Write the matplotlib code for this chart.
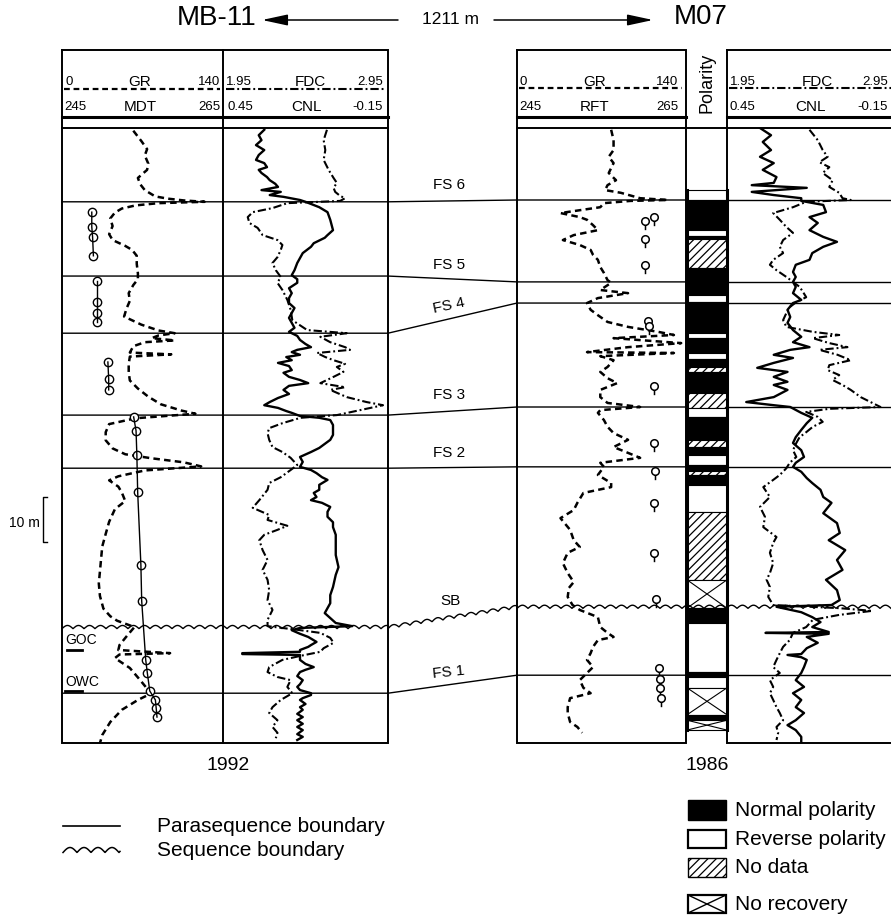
import numpy as np
import matplotlib
matplotlib.use("Agg")
import matplotlib.pyplot as plt
from matplotlib.path import Path
from matplotlib.patches import Rectangle

plt.rcParams['font.family'] = ['Liberation Sans', 'DejaVu Sans']
plt.rcParams['hatch.linewidth'] = 0.9
plt.rcParams['hatch.color'] = 'black'

# ====================== DATA (depth in m below top of section) ======================
# ---- MB-11 gamma ray (API) ----
mb_gr_depth = [0.6, 2.9, 4.7, 6.1, 7.9, 9.3, 11.1, 12.5, 13.8, 15.2, 15.7, 16.1, 16.4, 16.7, 17.2,
               17.9, 18.8, 20.1, 21.8, 23.6, 24.9, 26.2, 27.1, 28.4, 30.2, 32.3, 33.6, 34.9, 36.7,
               38.4, 40.2, 41.9, 43.7, 45.0, 45.6, 46.1, 46.7, 47.2, 47.6, 48.5, 49.9, 50.3, 50.8,
               52.5, 54.3, 56.1, 57.9, 59.7, 61.4, 62.8, 63.5, 64.5, 65.8, 67.6, 69.4, 71.2, 72.5,
               73.4, 74.3, 75.2, 76.1, 77.4, 78.3, 79.7, 81.0, 82.9, 84.7, 87.5, 90.2, 93.0, 95.7,
               98.5, 101.2, 104.0, 106.8, 108.5, 109.5, 110.9, 112.7, 114.9, 116.0, 116.7, 117.0,
               117.8, 120.0, 122.7, 124.9, 125.6, 127.1, 129.3, 132.0, 134.9, 136.7]
mb_gr = [62, 69, 74, 72, 75, 74, 66, 68, 72, 81, 92, 106, 124, 84, 64,
         52, 46, 42, 44, 41, 44, 55, 61, 65, 65, 66, 66, 62, 58,
         59, 56, 54, 69, 84, 98, 84, 78, 98, 72, 62, 59, 95, 59,
         58, 58, 59, 66, 75, 86, 104, 116, 64, 41, 38, 38, 44, 55,
         78, 106, 121, 72, 49, 41, 49, 52, 55, 46, 41, 38, 35, 34,
         33, 32, 33, 36, 42, 48, 63, 57, 50, 49, 94, 50,
         46, 59, 68, 75, 78, 66, 52, 42, 35, 33]

# ---- MB-11 MDT pressure (bar) ----
mb_mdt_depth = [18.7, 22.0, 24.2, 28.4, 34.0, 38.7, 41.1, 43.1, 52.0, 55.8, 58.2,
                64.2, 67.3, 72.7, 80.9, 97.1, 105.1, 118.2, 121.1, 125.1, 127.1, 128.9, 130.9]
mb_mdt = [248.7, 248.7, 248.8, 248.9, 249.3, 249.3, 249.3, 249.3, 250.7, 250.8, 250.8,
          253.9, 254.2, 254.3, 254.4, 254.8, 254.9, 255.4, 255.6, 255.9, 256.6, 256.7, 256.8]
mb_mdt_group = [1, 1, 1, 1, 2, 2, 2, 2, 3, 3, 3,
                4, 4, 4, 4, 4, 4, 4, 4, 4, 4, 4, 4]

# ---- MB-11 density (g/cc) ----
mb_fdc_depth = [0.4, 2.7, 4.9, 7.1, 9.3, 11.1, 12.2, 13.3, 14.2, 15.1,
                15.6, 16.2, 16.7, 17.8, 18.7, 19.8, 21.1, 22.2, 23.8, 24.9,
                26.0, 27.1, 28.7, 30.0, 31.6, 33.1, 34.4, 36.0, 38.2, 40.4,
                42.7, 44.9, 45.6, 46.4, 47.6, 48.7, 49.3, 50.0, 50.9, 51.6,
                52.4, 53.1, 54.2, 55.3, 56.7, 57.6, 58.2, 59.8, 60.9, 61.6,
                62.7, 63.8, 64.4, 65.6, 66.7, 67.8, 69.3, 70.9, 72.0, 73.3,
                74.9, 76.0, 77.6, 78.9, 80.4, 82.7, 84.4, 86.0, 87.1, 88.4,
                89.3, 90.4, 91.6, 93.8, 96.0, 98.2, 100.4, 102.7, 104.9, 107.1,
                109.3, 110.7, 111.6, 112.2, 113.3, 114.4, 115.6, 116.4, 117.3, 118.2,
                119.8, 120.9, 122.0, 122.7, 124.2, 125.6, 127.1, 128.7, 130.0, 131.6,
                133.1, 134.4, 135.6]
mb_fdc = [2.58, 2.56, 2.57, 2.56, 2.59, 2.62, 2.64, 2.62, 2.63, 2.66,
          2.69, 2.66, 2.34, 2.25, 2.13, 2.10, 2.11, 2.16, 2.19, 2.28,
          2.31, 2.30, 2.28, 2.25, 2.27, 2.30, 2.28, 2.31, 2.34, 2.36,
          2.37, 2.46, 2.70, 2.54, 2.60, 2.69, 2.72, 2.52, 2.57, 2.62,
          2.69, 2.64, 2.68, 2.62, 2.54, 2.69, 2.60, 2.70, 2.82, 2.92,
          2.78, 2.64, 2.42, 2.31, 2.23, 2.22, 2.23, 2.25, 2.31, 2.36,
          2.40, 2.36, 2.30, 2.23, 2.22, 2.17, 2.13, 2.23, 2.22, 2.34,
          2.28, 2.20, 2.17, 2.19, 2.22, 2.19, 2.22, 2.23, 2.22, 2.25,
          2.22, 2.22, 2.42, 2.54, 2.60, 2.62, 2.56, 2.54, 2.42, 2.31,
          2.23, 2.22, 2.28, 2.36, 2.34, 2.37, 2.30, 2.25, 2.23, 2.28,
          2.25, 2.28, 2.27]

# ---- MB-11 neutron porosity (v/v) ----
mb_cnl_depth = [0.4, 1.6, 2.7, 3.8, 4.9, 6.0, 7.1, 7.8, 8.7, 9.3,
                10.0, 10.9, 11.6, 12.4, 13.1, 13.8, 14.2, 14.9, 15.3, 16.0,
                16.4, 17.6, 18.7, 20.4, 22.7, 23.8, 24.4, 25.6, 26.4, 27.8,
                28.9, 30.0, 31.6, 32.7, 33.6, 34.4, 35.6, 36.7, 37.8, 38.9,
                40.0, 41.1, 42.2, 43.3, 44.4, 45.3, 46.2, 47.1, 48.0, 48.7,
                49.3, 49.8, 50.4, 50.9, 51.6, 52.2, 52.9, 53.8, 54.4, 55.3,
                56.0, 56.7, 57.3, 58.2, 59.1, 60.0, 60.9, 61.6, 62.2, 62.9,
                63.3, 64.0, 64.4, 64.9, 66.0, 67.1, 68.2, 69.3, 70.2, 71.1,
                72.0, 73.1, 74.2, 75.3, 76.0, 76.7, 77.6, 78.2, 79.3, 80.4,
                81.1, 82.0, 82.7, 83.3, 84.2, 85.3, 86.4, 87.6, 88.7, 90.4,
                93.1, 94.9, 97.6, 99.3, 102.0, 103.8, 105.6, 106.7, 107.8, 108.9,
                110.0, 110.7, 111.1, 111.6, 112.4, 113.1, 114.2, 114.9, 115.3, 116.0,
                116.4, 116.7, 116.9, 117.1, 118.2, 119.1, 119.8, 120.4, 120.9, 121.8,
                122.7, 123.6, 124.2, 124.9, 125.6, 126.0, 126.7, 127.1, 128.0, 128.7,
                129.3, 130.2, 130.9, 131.6, 132.4, 133.1, 133.8, 134.7, 135.3, 136.0]
mb_cnl = [0.30, 0.32, 0.31, 0.33, 0.30, 0.32, 0.33, 0.30, 0.29, 0.32,
          0.31, 0.29, 0.28, 0.26, 0.25, 0.31, 0.24, 0.28, 0.23, 0.17,
          0.15, 0.10, 0.07, 0.06, 0.05, 0.07, 0.08, 0.12, 0.13, 0.16,
          0.17, 0.18, 0.19, 0.20, 0.18, 0.18, 0.21, 0.20, 0.21, 0.21,
          0.19, 0.20, 0.21, 0.20, 0.19, 0.21, 0.18, 0.17, 0.15, 0.13,
          0.18, 0.20, 0.17, 0.22, 0.20, 0.25, 0.21, 0.20, 0.23, 0.21,
          0.17, 0.14, 0.21, 0.23, 0.21, 0.25, 0.28, 0.30, 0.25, 0.22,
          0.20, 0.17, 0.10, 0.06, 0.05, 0.05, 0.05, 0.06, 0.08, 0.10,
          0.13, 0.17, 0.16, 0.17, 0.13, 0.11, 0.09, 0.07, 0.10, 0.10,
          0.12, 0.11, 0.13, 0.09, 0.06, 0.07, 0.07, 0.05, 0.05, 0.04,
          0.04, 0.04, 0.03, 0.04, 0.05, 0.06, 0.06, 0.07, 0.08, 0.06,
          0.04, -0.02, 0.17, 0.20, 0.17, 0.14, 0.11, 0.13, 0.14, 0.17,
          0.17, 0.38, 0.38, 0.17, 0.17, 0.15, 0.12, 0.15, 0.17, 0.18,
          0.16, 0.17, 0.18, 0.17, 0.13, 0.13, 0.16, 0.17, 0.15, 0.17,
          0.16, 0.18, 0.16, 0.18, 0.16, 0.18, 0.16, 0.18, 0.16, 0.18]

# ---- M07 gamma ray (API) ----
m7_gr_depth = [0.4, 2.7, 4.9, 6.4, 7.8, 10.0, 11.6, 12.7, 13.8, 14.4,
               15.6, 16.0, 16.2, 16.7, 17.6, 18.9, 19.8, 20.4, 21.6, 22.7,
               23.8, 24.9, 26.0, 27.1, 28.2, 29.3, 30.9, 32.2, 33.8, 34.4,
               36.0, 36.7, 37.8, 38.9, 40.4, 41.6, 43.1, 44.2, 45.3, 46.0,
               46.7, 47.8, 48.7, 49.8, 50.0, 50.7, 51.6, 53.1, 54.2, 55.6,
               56.7, 58.2, 59.8, 61.1, 62.0, 62.7, 63.3, 64.9, 66.4, 67.8,
               69.3, 70.9, 72.2, 73.3, 74.4, 75.3, 77.1, 78.9, 79.8, 81.1,
               83.3, 84.9, 86.7, 89.3, 91.6, 93.1, 94.4, 96.7, 98.9, 100.9,
               102.2, 104.2, 106.0, 107.1, 108.7, 110.9, 112.2, 113.1, 113.8, 115.3,
               116.7, 118.2, 119.8, 121.1, 122.7, 124.4, 125.6, 126.7, 128.7, 130.0,
               132.0, 133.1, 134.4]
m7_gr = [78, 80, 80, 76, 80, 76, 82, 75, 73, 86,
         102, 125, 94, 72, 69, 36, 52, 58, 63, 67,
         47, 38, 52, 61, 63, 67, 69, 72, 75, 78,
         69, 92, 67, 58, 61, 67, 75, 92, 117, 130,
         80, 136, 92, 58, 130, 69, 80, 75, 69, 75,
         83, 69, 69, 75, 102, 69, 67, 72, 75, 80,
         92, 80, 92, 102, 69, 72, 67, 78, 78, 55,
         50, 47, 36, 44, 47, 52, 42, 38, 42, 47,
         43, 42, 46, 52, 67, 69, 75, 80, 67, 63,
         61, 58, 63, 58, 52, 55, 61, 44, 42, 42,
         44, 50, 54]

# ---- M07 RFT pressure (bar) ----
m7_rft_depth = [19.8, 20.7, 24.7, 30.4, 42.9, 44.0, 57.3, 70.0, 76.2, 83.3,
                94.4, 104.7, 120.0, 122.4, 124.4, 126.7]
m7_rft = [261.2, 260.1, 260.1, 260.2, 260.5, 260.6, 261.2, 261.2, 261.3, 261.2,
          261.2, 261.5, 261.8, 261.9, 261.9, 262.1]

# ---- M07 density (g/cc) ----
m7_fdc_depth = [0.4, 2.7, 4.9, 6.4, 7.6, 8.7, 10.0, 11.6, 13.1, 14.4,
                15.6, 16.0, 16.4, 17.6, 18.9, 20.4, 22.0, 23.3, 24.9, 26.4,
                27.8, 29.3, 30.4, 31.6, 33.1, 34.2, 35.3, 36.4, 37.6, 38.7,
                39.8, 41.1, 42.7, 44.2, 45.3, 46.0, 46.7, 47.8, 48.7, 49.3,
                50.4, 51.6, 52.7, 53.8, 54.9, 56.0, 57.1, 58.2, 59.8, 60.9,
                62.0, 62.4, 63.1, 64.2, 65.3, 66.4, 67.6, 68.7, 70.0, 71.6,
                73.1, 74.4, 75.6, 77.1, 78.2, 79.8, 82.0, 84.2, 86.4, 88.7,
                90.9, 92.2, 94.4, 96.7, 98.9, 100.4, 102.0, 104.2, 106.0, 106.7,
                107.3, 108.2, 109.3, 110.9, 112.2, 113.8, 115.3, 116.7, 118.2, 119.8,
                121.1, 122.7, 124.2, 125.6, 127.1, 128.7, 130.0, 131.6, 133.1, 134.4, 136.0]
m7_fdc = [2.45, 2.50, 2.53, 2.56, 2.51, 2.57, 2.53, 2.59, 2.57, 2.63,
          2.65, 2.70, 2.43, 2.35, 2.23, 2.27, 2.31, 2.35, 2.29, 2.27,
          2.29, 2.23, 2.21, 2.25, 2.31, 2.35, 2.39, 2.41, 2.43, 2.37,
          2.33, 2.31, 2.29, 2.31, 2.47, 2.63, 2.47, 2.57, 2.68, 2.51,
          2.62, 2.70, 2.57, 2.56, 2.63, 2.59, 2.65, 2.70, 2.76, 2.82,
          2.88, 2.57, 2.43, 2.50, 2.53, 2.47, 2.43, 2.39, 2.37, 2.35,
          2.37, 2.33, 2.31, 2.27, 2.23, 2.17, 2.21, 2.15, 2.18, 2.17,
          2.25, 2.23, 2.21, 2.23, 2.21, 2.19, 2.21, 2.20, 2.23, 2.63,
          2.83, 2.63, 2.47, 2.43, 2.35, 2.33, 2.29, 2.27, 2.25, 2.23,
          2.27, 2.21, 2.23, 2.21, 2.23, 2.25, 2.27, 2.29, 2.25, 2.26, 2.25]

# ---- M07 neutron porosity (v/v) ----
m7_cnl_depth = [0.0, 1.6, 3.1, 4.9, 6.4, 7.8, 9.3, 10.9, 12.2, 12.7,
                13.3, 14.2, 14.9, 15.6, 16.2, 17.1, 18.7, 19.8, 21.1, 22.7,
                24.2, 25.3, 26.4, 27.8, 29.3, 30.4, 32.0, 33.1, 34.2, 35.3,
                36.7, 38.2, 38.9, 40.4, 42.0, 43.3, 44.9, 46.4, 47.6, 48.7,
                49.3, 50.4, 51.1, 52.2, 53.3, 54.2, 55.3, 56.4, 57.1, 58.2,
                59.8, 60.9, 61.6, 62.0, 63.3, 64.4, 65.6, 67.1, 68.7, 70.0,
                71.6, 73.1, 74.4, 75.3, 76.4, 77.8, 78.9, 80.4, 82.0, 83.3,
                85.6, 87.8, 90.0, 91.6, 93.8, 96.0, 98.2, 100.4, 102.7, 104.9,
                106.0, 106.4, 107.6, 108.7, 109.8, 110.9, 112.0, 112.2, 112.4, 113.1,
                114.4, 115.6, 116.9, 117.1, 117.6, 118.2, 119.8, 121.1, 122.7, 124.2,
                125.6, 127.1, 128.7, 130.0, 131.6, 132.7, 133.8, 135.3, 136.4]
m7_cnl = [0.33, 0.29, 0.32, 0.29, 0.33, 0.28, 0.32, 0.27, 0.28, 0.36,
          0.16, 0.36, 0.28, 0.18, 0.18, 0.10, 0.09, 0.15, 0.12, 0.15,
          0.10, 0.05, 0.10, 0.14, 0.15, 0.20, 0.21, 0.20, 0.21, 0.20,
          0.21, 0.18, 0.21, 0.23, 0.22, 0.23, 0.21, 0.18, 0.21, 0.15,
          0.22, 0.28, 0.21, 0.28, 0.34, 0.23, 0.28, 0.23, 0.28, 0.23,
          0.28, 0.38, 0.28, 0.22, 0.18, 0.14, 0.16, 0.18, 0.20, 0.21,
          0.18, 0.17, 0.20, 0.21, 0.18, 0.16, 0.14, 0.11, 0.10, 0.07,
          0.10, 0.05, 0.04, 0.08, 0.02, 0.05, 0.03, 0.09, 0.05, 0.04,
          0.07, 0.27, 0.18, 0.14, 0.11, 0.14, 0.08, 0.31, 0.08, 0.16,
          0.12, 0.16, 0.18, 0.23, 0.18, 0.16, 0.17, 0.18, 0.20, 0.17,
          0.21, 0.18, 0.20, 0.17, 0.20, 0.23, 0.20, 0.18, 0.18]

# ---- M07 palaeomagnetic polarity column ----
pol_bounds = [13.8, 16.0, 22.7, 24.0, 24.7, 31.1, 37.1, 38.7, 45.6, 46.7, 50.0, 51.3,
              53.1, 54.2, 58.9, 62.2, 64.2, 69.3, 70.9, 72.7, 74.9, 76.2, 77.1, 79.3,
              85.3, 100.4, 106.7, 110.0, 120.9, 122.0, 124.4, 130.4, 131.6, 133.8]
pol_kind = ['R', 'N', 'R', 'N', 'D', 'N', 'R', 'N', 'R', 'N', 'R', 'N',
            'D', 'N', 'D', 'R', 'N', 'D', 'N', 'R', 'N', 'D', 'N', 'R',
            'D', 'X', 'N', 'R', 'N', 'R', 'X', 'N', 'X']

# ---- correlated surfaces ----
surf_names = ['FS 6', 'FS 5', 'FS 4', 'FS 3', 'FS 2', 'SB', 'FS 1']
surf_mb11 = [16.4, 32.9, 45.6, 63.8, 75.6, 110.9, 125.6]
surf_m07 = [16.0, 34.2, 38.9, 62.0, 75.3, 106.4, 121.6]

# ====================== LAYOUT ======================
W, H = 891, 921
TOP, BOT = 128, 743
PX_PER_M = 4.5
DMAX = (BOT - TOP) / PX_PER_M
MB_L, MB_MID, MB_R = 62, 223, 388
M7_L, M7_GRR, M7_FL, M7_R = 517, 686, 727, 892

fig = plt.figure(figsize=(W / 100, H / 100), dpi=100)
ax = fig.add_axes([0, 0, 1, 1])
ax.set_xlim(0, W)
ax.set_ylim(H, 0)
ax.axis('off')
ax.set_zorder(0)


def track(x0, x1, xlim, z=3):
    a = fig.add_axes([x0 / W, 1 - BOT / H, (x1 - x0) / W, (BOT - TOP) / H])
    a.set_xlim(*xlim)
    a.set_ylim(DMAX, 0)
    a.axis('off')
    a.set_zorder(z)
    return a


sec = track(0, W, (0, W), z=2)

K = 'black'
GR_LS = (0, (2.6, 1.7))
FDC_LS = (0, (4.0, 1.4, 0.9, 1.4))

# ---------- titles ----------
ax.text(217, 18, 'MB-11', fontsize=20, ha='center', va='center')
ax.text(701, 17, 'M07', fontsize=20, ha='center', va='center')
ax.text(450, 19, '1211 m', fontsize=12.5, ha='center', va='center')
ax.annotate('', xy=(262, 20), xytext=(398, 20),
            arrowprops=dict(arrowstyle='-|>,head_length=1.3,head_width=0.28', lw=1.1,
                            color=K, mutation_scale=12, shrinkA=0, shrinkB=0))
ax.annotate('', xy=(653, 20), xytext=(494, 20),
            arrowprops=dict(arrowstyle='-|>,head_length=1.3,head_width=0.28', lw=1.1,
                            color=K, mutation_scale=12, shrinkA=0, shrinkB=0))

# ---------- frames and headers ----------
FLW = 1.4


def frame(x0, x1):
    ax.plot([x0, x1, x1, x0, x0], [50, 50, BOT, BOT, 50], color=K, lw=FLW,
            solid_joinstyle='miter')


frame(MB_L, MB_R)
ax.plot([MB_MID, MB_MID], [50, BOT], color=K, lw=FLW)
frame(M7_L, M7_GRR)
frame(M7_FL, M7_R)

hdr = dict(fontsize=9.5, va='center')
# MB-11 header
ax.text(65, 82, '0', ha='left', **hdr)
ax.text(140, 82, 'GR', ha='center', fontsize=11, va='center')
ax.text(220, 82, '140', ha='right', **hdr)
ax.text(226, 82, '1.95', ha='left', **hdr)
ax.text(310, 82, 'FDC', ha='center', fontsize=11, va='center')
ax.text(383, 82, '2.95', ha='right', **hdr)
ax.text(64, 107, '245', ha='left', **hdr)
ax.text(140, 107, 'MDT', ha='center', fontsize=11, va='center')
ax.text(220, 107, '265', ha='right', **hdr)
ax.text(227, 107, '0.45', ha='left', **hdr)
ax.text(307, 107, 'CNL', ha='center', fontsize=11, va='center')
ax.text(383, 107, '-0.15', ha='right', **hdr)
ax.plot([64, 220], [89, 89], color=K, lw=1.6, ls=GR_LS)
ax.plot([226, 386], [89, 89], color=K, lw=1.5, ls=FDC_LS)
ax.plot([MB_L, MB_R], [117, 117], color=K, lw=2.2)
ax.plot([MB_L, MB_R], [TOP, TOP], color=K, lw=1.4)
# M07 header
ax.text(520, 82, '0', ha='left', **hdr)
ax.text(595, 82, 'GR', ha='center', fontsize=11, va='center')
ax.text(678, 82, '140', ha='right', **hdr)
ax.text(730, 82, '1.95', ha='left', **hdr)
ax.text(817, 82, 'FDC', ha='center', fontsize=11, va='center')
ax.text(888, 82, '2.95', ha='right', **hdr)
ax.text(519, 107, '245', ha='left', **hdr)
ax.text(595, 107, 'RFT', ha='center', fontsize=11, va='center')
ax.text(678, 107, '265', ha='right', **hdr)
ax.text(730, 107, '0.45', ha='left', **hdr)
ax.text(811, 107, 'CNL', ha='center', fontsize=11, va='center')
ax.text(888, 107, '-0.15', ha='right', **hdr)
ax.plot([519, 682], [88, 88], color=K, lw=1.6, ls=GR_LS)
ax.plot([729, 891], [88, 88], color=K, lw=1.5, ls=FDC_LS)
ax.plot([M7_L, M7_GRR], [117, 117], color=K, lw=2.2)
ax.plot([M7_FL, M7_R], [117, 117], color=K, lw=2.2)
ax.plot([M7_L, M7_R], [TOP, TOP], color=K, lw=1.4)
ax.text(707, 83, 'Polarity', rotation=90, ha='center', va='center', fontsize=13)

# ---------- bottom labels, scale ----------
ax.text(228, 765, '1992', ha='center', va='center', fontsize=14)
ax.text(707, 765, '1986', ha='center', va='center', fontsize=14)
ax.plot([47, 43, 43, 47], [497, 497, 542, 542], color=K, lw=1.0)
ax.text(40, 523, '10 m', ha='right', va='center', fontsize=10)
ax.text(65, 640, 'GOC', ha='left', va='center', fontsize=10)
ax.plot([67, 82], [650, 650], color=K, lw=2.0)
ax.text(65, 682, 'OWC', ha='left', va='center', fontsize=10)
ax.plot([65, 82], [691, 691], color=K, lw=2.0)


# ---------- wavy helper ----------
def wave(x0, y0, x1, y1, period, amp):
    xs = np.linspace(x0, x1, int(abs(x1 - x0) * 3) + 2)
    base = y0 + (y1 - y0) * (xs - x0) / (x1 - x0)
    ys = base + amp * 0.5 - amp * np.abs(np.sin(np.pi * (xs - x0) / period))
    return xs, ys


# ---------- correlation surfaces ----------
for name, dmb, dm7 in zip(surf_names, surf_mb11, surf_m07):
    if name == 'SB':
        amp = 3.2 / PX_PER_M
        for (xa, ya, xb, yb) in [(MB_L, dmb, MB_R, dmb), (MB_R, dmb, M7_L, dm7),
                                 (M7_L, dm7, M7_R, dm7)]:
            xs, ys = wave(xa, ya, xb, yb, 11.0, amp)
            sec.plot(xs, ys, color=K, lw=1.0, zorder=6)
    else:
        sec.plot([MB_L, MB_R, M7_L, M7_GRR], [dmb, dmb, dm7, dm7], color=K, lw=1.0)
        sec.plot([M7_FL, M7_R], [dm7, dm7], color=K, lw=1.0)

lab = dict(fontsize=11, ha='left', va='center')
ax.text(433, 185, 'FS 6', **lab)
ax.text(433, 265, 'FS 5', **lab)
ax.text(433, 309, 'FS 4', rotation=12, rotation_mode='anchor', **lab)
ax.text(433, 395, 'FS 3', **lab)
ax.text(433, 453, 'FS 2', **lab)
ax.text(440, 601, 'SB', **lab)
ax.text(433, 674, 'FS 1', rotation=6, rotation_mode='anchor', **lab)

# ---------- polarity column ----------
PX0, PW = 687, 40
for top, bot, kind in zip(pol_bounds[:-1], pol_bounds[1:], pol_kind):
    h = bot - top
    if kind == 'N':
        sec.add_patch(Rectangle((PX0, top), PW, h, fc=K, ec=K, lw=0.8, zorder=3))
    elif kind == 'R':
        sec.add_patch(Rectangle((PX0, top), PW, h, fc='white', ec=K, lw=0.8, zorder=3))
    elif kind == 'D':
        sec.add_patch(Rectangle((PX0, top), PW, h, fc='white', ec=K, lw=0.8,
                                hatch='////', zorder=3))
    else:
        sec.add_patch(Rectangle((PX0, top), PW, h, fc='white', ec=K, lw=0.8, zorder=3))
        sec.plot([PX0, PX0 + PW], [top, bot], color=K, lw=0.8, zorder=4)
        sec.plot([PX0, PX0 + PW], [bot, top], color=K, lw=0.8, zorder=4)
sec.plot([PX0, PX0], [pol_bounds[0], pol_bounds[-1]], color=K, lw=2.2, zorder=5)
sec.plot([PX0 + PW, PX0 + PW], [pol_bounds[0], pol_bounds[-1]], color=K, lw=2.2, zorder=5)

# ---------- MB-11 log curves ----------
a_gr = track(MB_L, MB_MID, (0, 140))
a_gr.plot(mb_gr, mb_gr_depth, color=K, lw=1.8, ls=GR_LS)
a_mdt = track(MB_L, MB_MID, (245, 265), z=4)
d_arr = np.array(mb_mdt_depth)
p_arr = np.array(mb_mdt)
g_arr = np.array(mb_mdt_group)
a_mdt.plot(p_arr, d_arr, ls='none', marker='o', ms=6, mfc='white', mec=K, mew=1.0, zorder=2)
for g in np.unique(g_arr):
    m = g_arr == g
    a_mdt.plot(p_arr[m], d_arr[m], color=K, lw=1.0, zorder=3)

a_fdc = track(MB_MID, MB_R, (1.95, 2.95))
a_fdc.plot(mb_fdc, mb_fdc_depth, color=K, lw=1.5, ls=FDC_LS)
a_cnl = track(MB_MID, MB_R, (0.45, -0.15))
a_cnl.plot(mb_cnl, mb_cnl_depth, color=K, lw=1.7)

# ---------- M07 log curves ----------
b_gr = track(M7_L, M7_GRR, (0, 140))
b_gr.plot(m7_gr, m7_gr_depth, color=K, lw=1.8, ls=GR_LS)
pin = Path.make_compound_path(Path.unit_circle(),
                              Path([[0, -1], [0, -2.3]], [Path.MOVETO, Path.LINETO]))
b_rft = track(M7_L, M7_GRR, (245, 265), z=4)
b_rft.plot(m7_rft, m7_rft_depth, ls='none', marker=pin, ms=12.5, mfc='white', mec=K, mew=1.1)

b_fdc = track(M7_FL, M7_R, (1.95, 2.95))
b_fdc.plot(m7_fdc, m7_fdc_depth, color=K, lw=1.5, ls=FDC_LS)
b_cnl = track(M7_FL, M7_R, (0.45, -0.15))
b_cnl.plot(m7_cnl, m7_cnl_depth, color=K, lw=1.7)

# ---------- legends ----------
leg = dict(fontsize=15, ha='left', va='center')
ax.plot([63, 120], [826, 826], color=K, lw=1.2)
ax.text(157, 826, 'Parasequence boundary', **leg)
xs, ys = wave(63, 850, 120, 850, 14.0, 5.0)
ax.plot(xs, ys, color=K, lw=1.1)
ax.text(157, 850, 'Sequence boundary', **leg)

ax.add_patch(Rectangle((688, 800), 38, 20, fc=K, ec=K, lw=1.0))
ax.text(735, 810, 'Normal polarity', **leg)
ax.add_patch(Rectangle((688, 830), 38, 18, fc='white', ec=K, lw=1.6))
ax.text(735, 839, 'Reverse polarity', **leg)
ax.add_patch(Rectangle((688, 858), 38, 19, fc='white', ec=K, lw=1.0, hatch='////'))
ax.text(735, 867, 'No data', **leg)
ax.add_patch(Rectangle((688, 895), 38, 18, fc='white', ec=K, lw=1.6))
ax.plot([688, 726], [895, 913], color=K, lw=1.0)
ax.plot([688, 726], [913, 895], color=K, lw=1.0)
ax.text(735, 904, 'No recovery', **leg)

fig.savefig('out.png', dpi=100)
